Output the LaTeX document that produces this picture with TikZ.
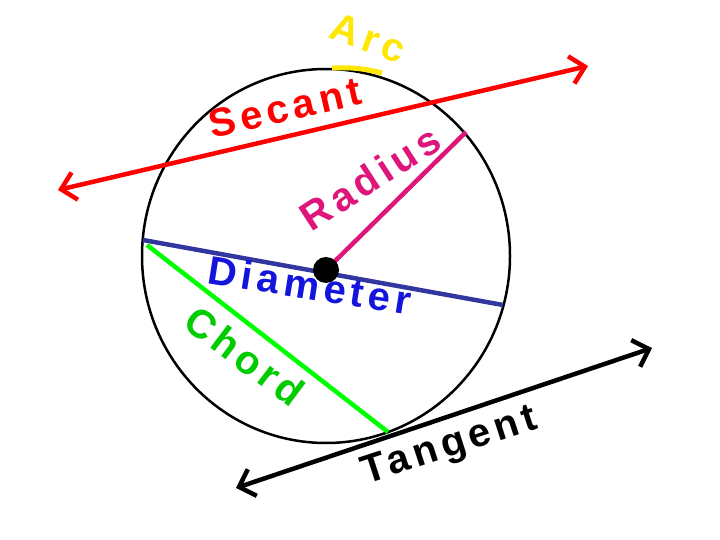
\documentclass[tikz,border=0pt]{standalone}
\usepackage{fontspec}
\setmainfont{Liberation Sans}
\usetikzlibrary{arrows.meta,shapes.geometric}
\begin{document}
\begin{tikzpicture}[x=1pt,y=-1pt,
  seg/.style={line width=4.5pt},
  lbl/.style={font=\bfseries\fontsize{40}{40}\selectfont\addfontfeature{LetterSpace=12}},
  arr/.style={line width=4.5pt,{Straight Barb[length=14pt,width=28pt,line width=4.5pt]}-{Straight Barb[length=14pt,width=28pt,line width=4.5pt]}}]
\useasboundingbox (0,0) rectangle (720,540);
\node[draw,line width=2.5pt,ellipse,minimum width=368pt,minimum height=374pt,inner sep=0pt] (circ) at (326,256) {};
\coordinate (c) at (326,270);
\coordinate (s1) at (58,190); \coordinate (s2) at (588,66);
\coordinate (r2) at (466,132);
\coordinate (d1) at (143,240); \coordinate (d2) at (503,305);
\coordinate (h1) at (147,245); \coordinate (h2) at (388,432);
\coordinate (t1) at (236,488); \coordinate (t2) at (652,348);
\draw[yellow!90!orange,line width=5pt] (332,68) to[bend left=8] (382,73);
\draw[red,arr] (s1) -- (s2);
\draw[magenta!70!purple,seg] (c) -- (r2);
\draw[seg,color={rgb,255:red,50;green,55;blue,160}] (d1) -- (d2);
\draw[green,seg] (h1) -- (h2);
\draw[black,arr] (t1) -- (t2);
\fill (c) circle (13pt);
\node[lbl,yellow!90!orange,rotate=-20] (arc) at (368,38) {Arc};
\node[lbl,red,rotate=13] (sec) at (285,108) {Secant};
\node[lbl,magenta!70!purple,rotate=33] (rad) at (370,178) {Radius};
\node[lbl,color={rgb,255:red,20;green,20;blue,220},rotate=-9] (dia) at (310,285) {Diameter};
\node[lbl,green!80!black,rotate=-37] (cho) at (245,356) {Chord};
\node[lbl,black,rotate=18] (tan) at (450,447) {Tangent};
\end{tikzpicture}
\end{document}
